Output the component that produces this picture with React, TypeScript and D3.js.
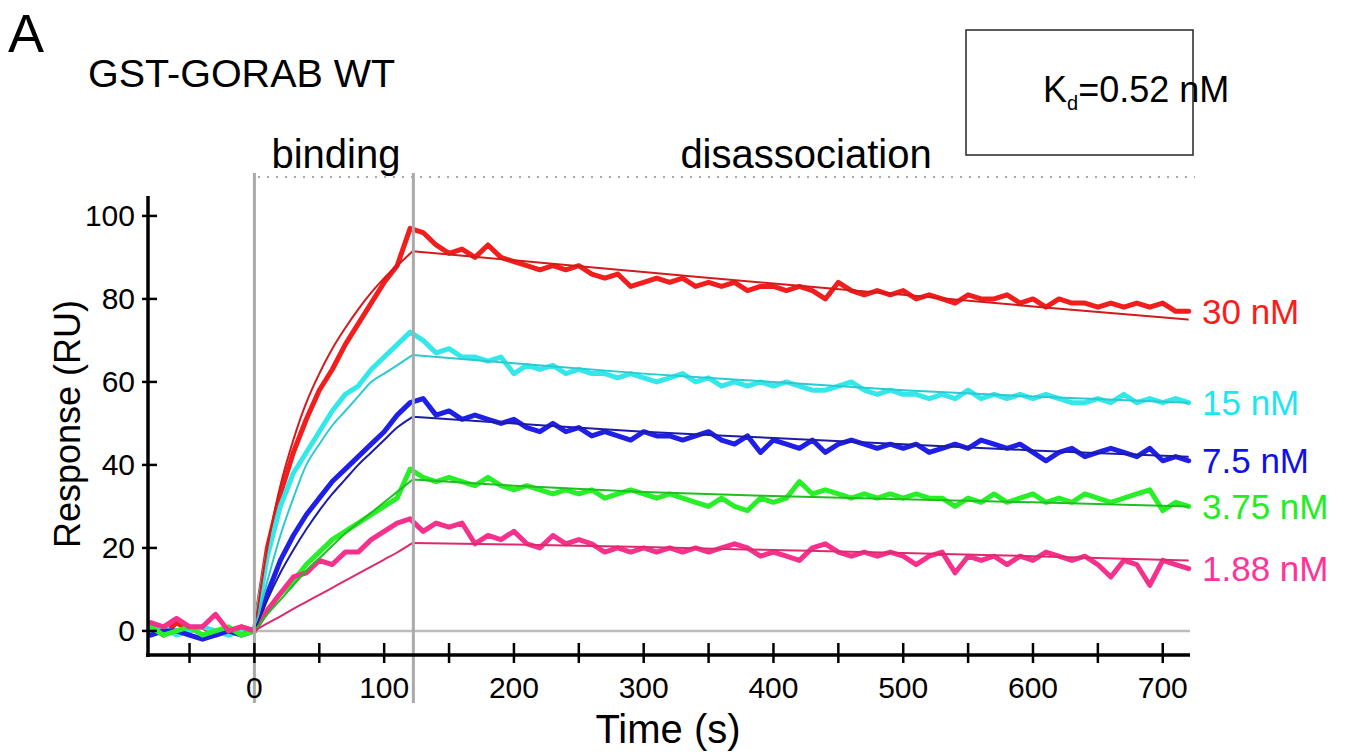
import React from 'react';
import * as d3 from 'd3';

const width = 1346;
const height = 756;

// sampling grid of the sensorgram, seconds
const times = d3.range(-80, 721, 10);

const red30 = [
  1, -1, 2, 0, 1, -1, 0, 1, 0,
  20, 33, 43, 51, 58, 63, 69, 74, 79, 84, 88, 97,
  96, 93, 91, 92, 90, 93, 90, 89, 88, 87,
  88, 87, 88, 86, 85, 86, 83, 84, 85, 84,
  85, 83, 84, 83, 84, 82, 83, 83, 82, 83,
  82, 80, 84, 82, 81, 82, 81, 82, 80, 81,
  80, 79, 81, 80, 80, 81, 79, 80, 78, 80,
  79, 79, 78, 79, 78, 79, 78, 79, 77, 77,
];
const cyan15 = [
  0, 1, -1, 0, 1, 0, -1, 0, 0,
  18, 30, 38, 43, 48, 53, 57, 59, 63, 66, 69, 72,
  70, 67, 68, 66, 66, 65, 66, 62, 64, 63,
  64, 62, 63, 62, 62, 61, 62, 61, 60, 61,
  62, 60, 61, 59, 60, 59, 60, 59, 60, 59,
  58, 58, 59, 60, 58, 57, 58, 57, 57, 56,
  57, 56, 58, 56, 57, 56, 57, 56, 57, 56,
  55, 55, 56, 55, 57, 55, 56, 55, 56, 55,
];
const blue75 = [
  -1, 0, 0, -1, -2, -1, 0, -1, 0,
  9, 17, 23, 28, 32, 36, 39, 42, 45, 48, 52, 55,
  56, 52, 53, 51, 52, 51, 50, 51, 49, 48,
  50, 48, 49, 47, 48, 47, 46, 48, 47, 47,
  46, 47, 48, 46, 45, 47, 43, 46, 45, 44,
  46, 43, 45, 46, 45, 44, 45, 44, 45, 43,
  44, 45, 44, 46, 45, 44, 45, 43, 41, 43,
  44, 42, 43, 44, 43, 42, 44, 41, 42, 41,
];
const green375 = [
  1, -1, 0, 1, -1, 0, 1, -1, 0,
  5, 9, 12, 16, 19, 22, 24, 26, 28, 30, 32, 39,
  37, 36, 37, 36, 35, 37, 35, 34, 35, 34,
  33, 34, 33, 34, 32, 33, 34, 33, 32, 33,
  32, 31, 30, 32, 30, 29, 32, 31, 32, 36,
  33, 34, 33, 32, 33, 32, 33, 32, 33, 32,
  32, 30, 32, 31, 33, 31, 32, 33, 31, 32,
  31, 33, 32, 31, 32, 33, 34, 29, 31, 30,
];
const pink188 = [
  2, 1, 3, 1, 1, 4, 0, 1, 0,
  5, 9, 13, 14, 17, 16, 19, 19, 22, 24, 26, 27,
  24, 26, 25, 26, 21, 23, 22, 24, 21, 20,
  23, 21, 22, 21, 19, 20, 19, 20, 19, 20,
  19, 20, 19, 20, 21, 20, 18, 19, 18, 17,
  20, 21, 19, 18, 19, 18, 19, 18, 16, 18,
  19, 14, 18, 17, 18, 16, 18, 17, 19, 18,
  17, 18, 16, 13, 17, 16, 11, 17, 16, 15,
];

// fitted 1:1 model curves, injection ends at 122 s
const fitTimes = [0, 10, 20, 30, 40, 50, 60, 70, 80, 90, 100, 110, 122, 200, 300, 400, 500, 600, 720];
const red30Fit = [0, 20, 35, 46, 55, 62, 68, 73, 77.5, 81.5, 85, 88, 91.5, 89.3, 86.5, 83.7, 81, 78.2, 75];
const cyan15Fit = [0, 12, 23, 32, 40, 45, 49.5, 53, 56.5, 60, 62, 64, 66.5, 64.5, 62, 60, 58, 56.5, 55];
const blue75Fit = [0, 7.5, 14, 19.5, 24.5, 29, 33, 36.5, 40, 43, 46, 49, 51.6, 50, 48, 46.5, 45, 43.5, 42];
const green375Fit = [0, 4, 7.5, 11, 14.5, 17.5, 20.5, 23.5, 26, 28.5, 31, 33.5, 36.5, 35, 33.5, 32.5, 31.7, 31, 30];
const pink188Fit = [0, 1.8, 3.5, 5.3, 7, 8.7, 10.4, 12.1, 13.8, 15.5, 17.2, 18.9, 21.2, 20.8, 20.2, 19.5, 18.8, 18, 17];

const concLabels = ['30 nM', '15 nM', '7.5 nM', '3.75 nM', '1.88 nM'];
const injectionEnd = 122.5;
const xTicks = d3.range(-50, 701, 50);
const xTickLabels = [0, 100, 200, 300, 400, 500, 600, 700];
const yTicks = [0, 20, 40, 60, 80, 100];

const series = [
  { label: concLabels[0], data: red30, fit: red30Fit, color: '#f21d1d', fitColor: '#d41a1a', text: '#ff1a1a' },
  { label: concLabels[1], data: cyan15, fit: cyan15Fit, color: '#34e8ea', fitColor: '#2cc9d2', text: '#1de6f2' },
  { label: concLabels[2], data: blue75, fit: blue75Fit, color: '#1f1fe8', fitColor: '#1c1ca6', text: '#1010ea' },
  { label: concLabels[3], data: green375, fit: green375Fit, color: '#28f028', fitColor: '#1fbf1f', text: '#22ee22' },
  { label: concLabels[4], data: pink188, fit: pink188Fit, color: '#f6318c', fitColor: '#de2a6c', text: '#ff3399' },
];

const font = '"Liberation Sans", Arial, Helvetica, sans-serif';

export default function App() {
  const x = d3.scaleLinear().domain([-82, 721]).range([148, 1190]);
  const y = d3.scaleLinear().domain([-5.8, 104.8]).range([655, 196]);

  const dataLine = d3.line<number>()
    .x((_, i) => x(times[i]))
    .y(d => y(d));

  const fitLine = d3.line<[number, number]>()
    .x(d => x(d[0]))
    .y(d => y(d[1]))
    .curve(d3.curveMonotoneX);

  const split = fitTimes.indexOf(122);

  return (
    <svg width={width} height={height} style={{ position: 'absolute', left: 0, top: 0, background: '#fff' }} fontFamily={font}>
      {/* panel letter, title, Kd box */}
      <text x={8} y={52} fontSize={54}>A</text>
      <text x={88} y={87} fontSize={39.5}>GST-GORAB WT</text>
      <rect x={966} y={30} width={227} height={125} fill="none" stroke="#333" strokeWidth={1.6} />
      <text x={1043} y={102} fontSize={36}>
        K<tspan fontSize={20} dy={8}>d</tspan><tspan dy={-8}>=0.52 nM</tspan>
      </text>

      {/* phase labels and dotted guide */}
      <text x={336} y={168} fontSize={40} textAnchor="middle">binding</text>
      <text x={806} y={168} fontSize={40} textAnchor="middle">disassociation</text>
      <line x1={258} x2={1195} y1={177} y2={177} stroke="#aaa" strokeWidth={2} strokeDasharray="2 7" />

      {/* zero baseline */}
      <line x1={x(0)} x2={1190} y1={y(0)} y2={y(0)} stroke="#bbb" strokeWidth={2.5} />

      {/* measured responses */}
      {series.map(s => (
        <path key={s.label} d={dataLine(s.data) || ''} fill="none" stroke={s.color}
          strokeWidth={5} strokeLinejoin="round" strokeLinecap="round" />
      ))}

      {/* fitted curves */}
      {series.map(s => {
        const pts = fitTimes.map((t, i) => [t, s.fit[i]] as [number, number]);
        return (
          <g key={s.label + '-fit'} fill="none" stroke={s.fitColor} strokeWidth={2}>
            <path d={fitLine(pts.slice(0, split + 1)) || ''} />
            <path d={fitLine(pts.slice(split)) || ''} />
          </g>
        );
      })}

      {/* injection start / end markers */}
      {[0, injectionEnd].map(t => (
        <line key={t} x1={x(t)} x2={x(t)} y1={173} y2={703} stroke="#aaa" strokeWidth={3} />
      ))}

      {/* axes */}
      <line x1={148} x2={148} y1={196} y2={657} stroke="#000" strokeWidth={3.5} />
      <line x1={146} x2={1190} y1={655} y2={655} stroke="#000" strokeWidth={3.5} />
      {yTicks.map(v => (
        <g key={v}>
          <line x1={142} x2={157} y1={y(v)} y2={y(v)} stroke="#000" strokeWidth={2.5} />
          <text x={135} y={y(v)} fontSize={30} textAnchor="end" dominantBaseline="central">{v}</text>
        </g>
      ))}
      {xTicks.map(v => (
        <line key={v} x1={x(v)} x2={x(v)} y1={643} y2={663} stroke="#000" strokeWidth={2.5} />
      ))}
      {xTickLabels.map(v => (
        <text key={v} x={x(v)} y={698} fontSize={30} textAnchor="middle">{v}</text>
      ))}
      <text x={668} y={743} fontSize={40} textAnchor="middle">Time (s)</text>
      <text transform="translate(80,424) rotate(-90)" fontSize={36} textAnchor="middle">Response (RU)</text>

      {/* concentration labels */}
      {series.map(s => (
        <text key={s.label + '-lab'} x={1202} y={y(s.data[s.data.length - 1])} fontSize={35}
          fill={s.text} dominantBaseline="central">{s.label}</text>
      ))}
    </svg>
  );
}
